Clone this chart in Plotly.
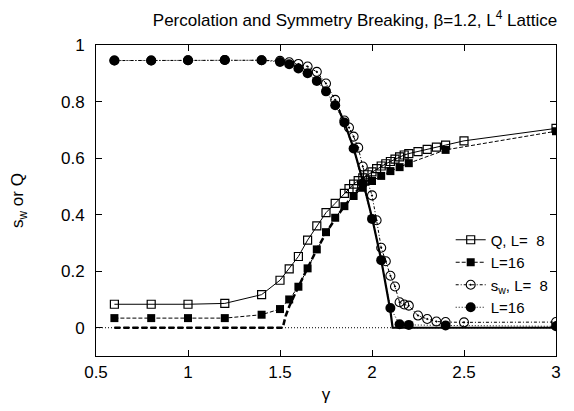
import plotly.graph_objects as go

# ---- data ----
q8_x = [0.6, 0.8, 1.0, 1.2, 1.4, 1.5, 1.55, 1.6, 1.65, 1.7, 1.75, 1.8, 1.85, 1.875, 1.9, 1.925,
        1.95, 1.975, 2.0, 2.025, 2.05, 2.075, 2.1, 2.125, 2.15, 2.175, 2.2, 2.25, 2.3, 2.35, 2.4, 2.5, 3.0]
q8_y = [0.083, 0.083, 0.083, 0.086, 0.117, 0.168, 0.208, 0.252, 0.31, 0.36, 0.407, 0.44, 0.475, 0.492,
        0.508, 0.52, 0.53, 0.541, 0.551, 0.563, 0.572, 0.58, 0.588, 0.596, 0.604, 0.611, 0.616, 0.623,
        0.631, 0.639, 0.646, 0.661, 0.705]

q16_x = [0.6, 0.8, 1.0, 1.2, 1.4, 1.5, 1.55, 1.6, 1.65, 1.7, 1.75, 1.8, 1.85, 1.9, 1.95, 2.0,
         2.05, 2.1, 2.15, 2.2, 2.4, 3.0]
q16_y = [0.034, 0.034, 0.034, 0.034, 0.046, 0.066, 0.1, 0.145, 0.21, 0.277, 0.338, 0.389, 0.43,
         0.466, 0.495, 0.519, 0.537, 0.554, 0.568, 0.582, 0.629, 0.695]

sw8_x = [0.6, 0.8, 1.0, 1.2, 1.4, 1.5, 1.55, 1.6, 1.65, 1.7, 1.75, 1.8, 1.85, 1.875, 1.9, 1.925,
         1.95, 1.975, 2.0, 2.025, 2.05, 2.075, 2.1, 2.125, 2.15, 2.175, 2.2, 2.25, 2.3, 2.35, 2.4, 2.5, 3.0]
sw8_y = [0.945, 0.945, 0.946, 0.947, 0.946, 0.944, 0.939, 0.933, 0.924, 0.905, 0.864, 0.806, 0.733,
         0.708, 0.676, 0.637, 0.57, 0.52, 0.468, 0.38, 0.283, 0.235, 0.184, 0.146, 0.09, 0.082, 0.078,
         0.043, 0.031, 0.022, 0.02, 0.019, 0.02]

sw16_x = [0.6, 0.8, 1.0, 1.2, 1.4, 1.5, 1.55, 1.6, 1.65, 1.7, 1.75, 1.8, 1.85, 1.9, 1.95, 2.0,
          2.05, 2.1, 2.15, 2.2, 2.4, 3.0]
sw16_y = [0.945, 0.945, 0.946, 0.947, 0.946, 0.94, 0.932, 0.917, 0.9, 0.873, 0.836, 0.787, 0.726,
          0.634, 0.51, 0.385, 0.239, 0.07, 0.012, 0.01, 0.008, 0.005]

# fitted curves
fitq16_x = [0.6, 1.515, 1.53, 1.55, 1.6, 1.65, 1.7, 1.75, 1.8, 1.85, 1.9, 1.95]
fitq16_y = [0.0, 0.0, 0.04, 0.075, 0.145, 0.212, 0.277, 0.335, 0.385, 0.43, 0.47, 0.51]

fitsw16_x = [1.82, 1.85, 1.9, 1.95, 2.0, 2.05, 2.1, 2.112, 3.0]
fitsw16_y = [0.77, 0.725, 0.635, 0.52, 0.39, 0.24, 0.06, 0.0, 0.0]

legend_labels = ["Q, L=\u00a0\u00a08", "L=16", "s<sub>w</sub>, L=\u00a0\u00a08", "L=16"]

x_ticks = [0.5, 1, 1.5, 2, 2.5, 3]
y_ticks = [0, 0.2, 0.4, 0.6, 0.8, 1]

FONT = "Liberation Sans, Arial, sans-serif"

fig = go.Figure()

# fits (no legend)
fig.add_trace(go.Scatter(x=fitq16_x, y=fitq16_y, mode="lines", showlegend=False,
                         line=dict(color="black", width=2.5, dash="6px,3px")))
fig.add_trace(go.Scatter(x=fitsw16_x, y=fitsw16_y, mode="lines", showlegend=False,
                         line=dict(color="black", width=2.2)))

fig.add_trace(go.Scatter(x=q8_x, y=q8_y, mode="lines+markers", name=legend_labels[0],
                         line=dict(color="black", width=1),
                         marker=dict(symbol="square-open", size=8, color="black",
                                     line=dict(width=1.2, color="black"))))
fig.add_trace(go.Scatter(x=q16_x, y=q16_y, mode="lines+markers", name=legend_labels[1],
                         line=dict(color="black", width=1, dash="4px,2px"),
                         marker=dict(symbol="square", size=8, color="black")))
fig.add_trace(go.Scatter(x=sw8_x, y=sw8_y, mode="lines+markers", name=legend_labels[2],
                         line=dict(color="black", width=1, dash="3px,2px,1px,2px"),
                         marker=dict(symbol="circle-open-dot", size=9, color="black",
                                     line=dict(width=1.1, color="black"))))
fig.add_trace(go.Scatter(x=sw16_x, y=sw16_y, mode="lines+markers", name=legend_labels[3],
                         line=dict(color="black", width=1, dash="1px,2px"),
                         marker=dict(symbol="circle", size=10, color="black")))

fig.add_hline(y=0, line=dict(color="black", width=1, dash="1px,2px"))

axis_common = dict(showline=True, linecolor="black", linewidth=1, mirror="ticks", ticks="inside",
                   ticklen=6, tickcolor="black", showgrid=False, zeroline=False, automargin=False,
                   tickfont=dict(size=17, color="black", family=FONT))

# the page adds an 8px body margin, so the figure is 8px smaller and margins shifted
fig.update_layout(
    width=566, height=403,
    margin=dict(l=88, r=18, t=37, b=55),
    paper_bgcolor="white", plot_bgcolor="white",
    font=dict(family=FONT, color="black"),
    title=dict(text="Percolation and Symmetry Breaking, \u03b2=1.2, L<sup>4</sup> Lattice",
               x=0.613, xanchor="center", y=0.970, yanchor="middle", xref="container",
               font=dict(size=17, color="black", family=FONT)),
    xaxis=dict(range=[0.5, 3], tickvals=x_ticks, ticklabelstandoff=1,
               title=dict(text="\u03b3", font=dict(size=17, family=FONT), standoff=6), **axis_common),
    yaxis=dict(range=[-0.1, 1], tickvals=y_ticks, ticklabelstandoff=7,
               title=dict(text="s<sub>w</sub> or Q", font=dict(size=17, family=FONT), standoff=34), **axis_common),
    legend=dict(x=0.995, y=0.426, xanchor="right", yanchor="top", bgcolor="rgba(0,0,0,0)",
                font=dict(size=15, family=FONT), tracegroupgap=0),
    showlegend=True,
)

fig.write_html("out.html")
